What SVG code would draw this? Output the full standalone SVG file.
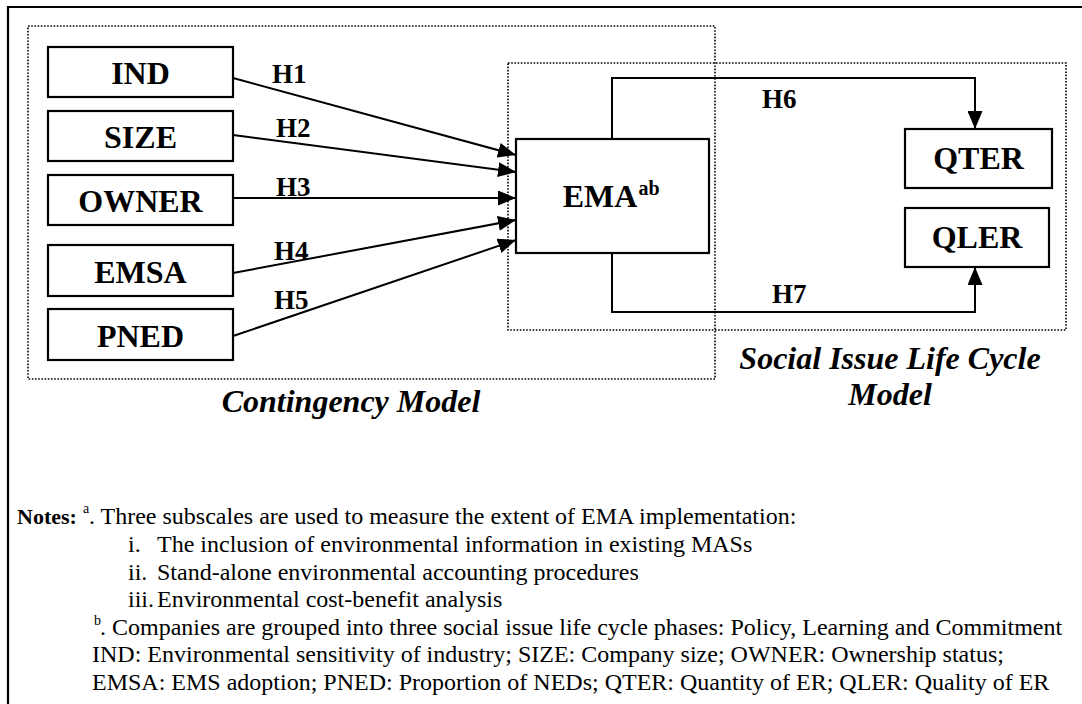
<svg xmlns="http://www.w3.org/2000/svg" width="1082" height="704" viewBox="0 0 1082 704">
<defs>
<marker id="arr" markerUnits="userSpaceOnUse" markerWidth="18" markerHeight="15" refX="18" refY="7.5" orient="auto">
<path d="M0,0 L18,7.5 L0,15 z" fill="#000"/>
</marker>
<style>
.box{fill:#fff;stroke:#000;stroke-width:2.2}
.dot{fill:none;stroke:#000;stroke-width:1.6;stroke-dasharray:1.6 1.6}
.frame{fill:none;stroke:#000;stroke-width:2.2}
.con{fill:none;stroke:#000;stroke-width:2}
.nt{font-family:"Liberation Serif","Times New Roman",serif;font-weight:bold;font-size:32px;text-anchor:middle;fill:#000}
.h{font-family:"Liberation Serif","Times New Roman",serif;font-weight:bold;font-size:27px;fill:#000}
.title{font-family:"Liberation Serif","Times New Roman",serif;font-weight:bold;font-style:italic;font-size:32px;text-anchor:middle;fill:#000}
.note{font-family:"Liberation Serif","Times New Roman",serif;font-size:24px;fill:#000}
.sup{font-family:"Liberation Serif","Times New Roman",serif;font-size:14px;fill:#000}
</style>
</defs>
<rect width="1082" height="704" fill="#fff"/>
<path class="frame" d="M8,720 V7 H1100"/>
<g id="contingency-model">
<rect class="dot" x="28" y="26" width="687" height="353"/>
<text class="title" x="351" y="412">Contingency Model</text>
</g>
<g id="social-issue-model">
<rect class="dot" x="508" y="63" width="558" height="267"/>
<text class="title" x="890" y="369">Social Issue Life Cycle</text>
<text class="title" x="890" y="405">Model</text>
</g>
<g id="connectors">
<line class="con" x1="233" y1="78" x2="516" y2="155" marker-end="url(#arr)"/>
<line class="con" x1="233" y1="135" x2="516" y2="172" marker-end="url(#arr)"/>
<line class="con" x1="233" y1="198" x2="516" y2="198" marker-end="url(#arr)"/>
<line class="con" x1="233" y1="273" x2="516" y2="220" marker-end="url(#arr)"/>
<line class="con" x1="233" y1="336" x2="516" y2="240" marker-end="url(#arr)"/>
<polyline class="con" points="612,139 612,78 975,78 975,129" marker-end="url(#arr)"/>
<polyline class="con" points="612,253 612,312 975,312 975,267" marker-end="url(#arr)"/>
<text class="h" x="272" y="83">H1</text>
<text class="h" x="276" y="137">H2</text>
<text class="h" x="276" y="196">H3</text>
<text class="h" x="274" y="260">H4</text>
<text class="h" x="274" y="309">H5</text>
<text class="h" x="762" y="108">H6</text>
<text class="h" x="772" y="303">H7</text>
</g>
<g id="node-ind"><rect class="box" x="48" y="47" width="185" height="50"/><text class="nt" x="140.5" y="84">IND</text></g>
<g id="node-size"><rect class="box" x="48" y="111" width="185" height="50"/><text class="nt" x="140.5" y="148">SIZE</text></g>
<g id="node-owner"><rect class="box" x="48" y="175" width="185" height="50"/><text class="nt" x="140.5" y="212">OWNER</text></g>
<g id="node-emsa"><rect class="box" x="48" y="245" width="185" height="51"/><text class="nt" x="140.5" y="283">EMSA</text></g>
<g id="node-pned"><rect class="box" x="48" y="309" width="185" height="51"/><text class="nt" x="140.5" y="347">PNED</text></g>
<g id="node-ema"><rect class="box" x="516" y="139" width="193" height="114"/><text class="nt" x="600" y="207">EMA</text><text class="nt" x="649" y="195" style="font-size:20px">ab</text></g>
<g id="node-qter"><rect class="box" x="905" y="129" width="147" height="59"/><text class="nt" x="978.5" y="169">QTER</text></g>
<g id="node-qler"><rect class="box" x="905" y="208" width="144" height="59"/><text class="nt" x="977" y="248">QLER</text></g>
<g id="notes">
<text class="note" x="17" y="524" font-weight="bold" style="font-size:22px">Notes:</text>
<text class="sup" x="83" y="513">a</text>
<text class="note" x="89" y="524">. Three subscales are used to measure the extent of EMA implementation:</text>
<text class="note" x="128" y="552">i.</text><text class="note" x="157" y="552">The inclusion of environmental information in existing MASs</text>
<text class="note" x="128" y="580">ii.</text><text class="note" x="157" y="580">Stand-alone environmental accounting procedures</text>
<text class="note" x="128" y="607">iii.</text><text class="note" x="157" y="607">Environmental cost-benefit analysis</text>
<text class="sup" x="94" y="625">b</text>
<text class="note" x="100" y="635">. Companies are grouped into three social issue life cycle phases: Policy, Learning and Commitment</text>
<text class="note" x="92" y="662">IND: Environmental sensitivity of industry; SIZE: Company size; OWNER: Ownership status;</text>
<text class="note" x="92" y="690">EMSA: EMS adoption; PNED: Proportion of NEDs; QTER: Quantity of ER; QLER: Quality of ER</text>
</g>
</svg>
